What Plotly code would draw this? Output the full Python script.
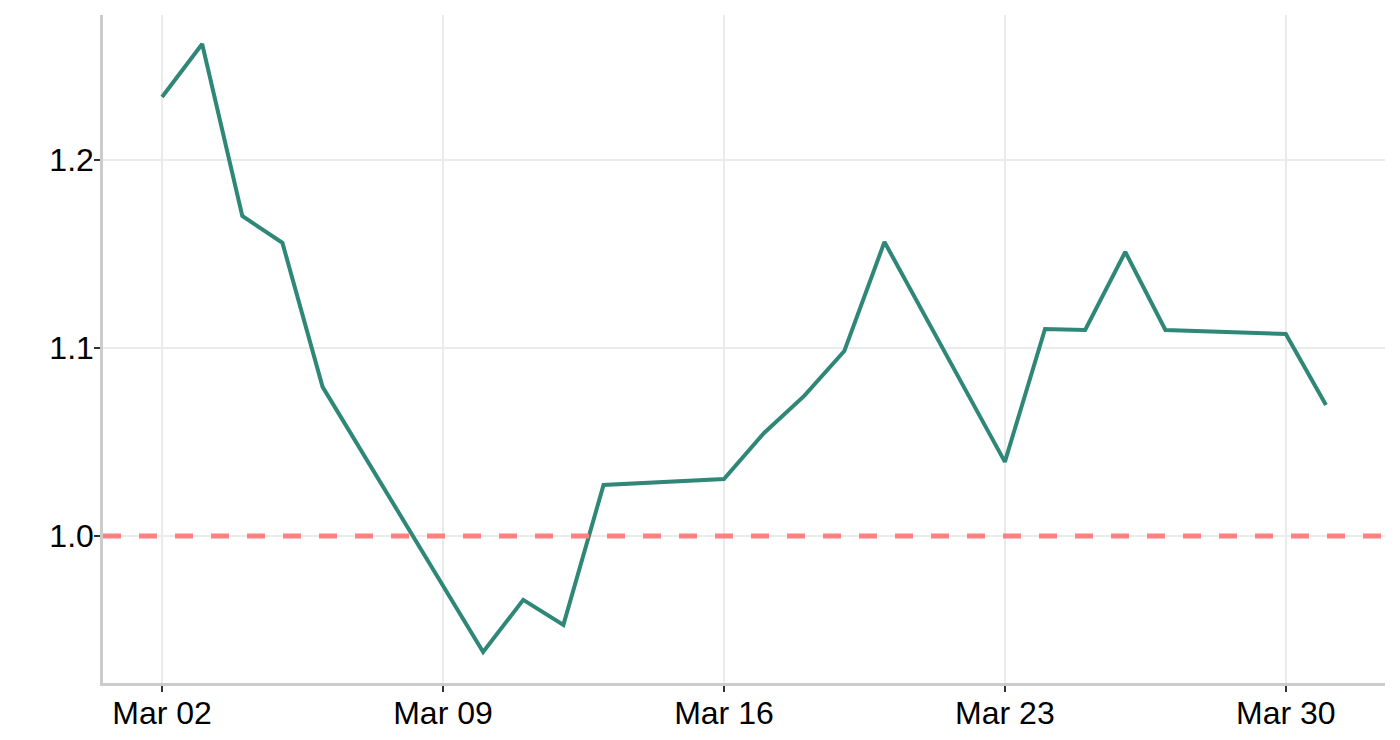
import plotly.graph_objects as go
import pandas as pd

# Datos
fechas = ["2020-03-02", "2020-03-03", "2020-03-04", "2020-03-05", "2020-03-06",
          "2020-03-10", "2020-03-11", "2020-03-12", "2020-03-13",
          "2020-03-16", "2020-03-17", "2020-03-18", "2020-03-19", "2020-03-20",
          "2020-03-23", "2020-03-24", "2020-03-25", "2020-03-26", "2020-03-27",
          "2020-03-30", "2020-03-31"]
valores = [1.2335, 1.2617, 1.1702, 1.1559, 1.0793,
           0.9383, 0.9660, 0.9527, 1.0271,
           1.0303, 1.0548, 1.0745, 1.0984, 1.1564,
           1.0394, 1.1101, 1.1096, 1.1511, 1.1096,
           1.1074, 1.0697]
referencia = 1.0

tick_fechas = ["2020-03-02", "2020-03-09", "2020-03-16", "2020-03-23", "2020-03-30"]
tick_textos = ["Mar 02", "Mar 09", "Mar 16", "Mar 23", "Mar 30"]
tick_y = [1.0, 1.1, 1.2]

fechas = pd.to_datetime(fechas)

fig = go.Figure()

fig.add_trace(go.Scatter(
    x=fechas,
    y=valores,
    mode='lines',
    line=dict(color='#2e8777', width=4),
    showlegend=False
))

# Línea de referencia
fig.add_hline(y=referencia, line=dict(color='#ff8080', width=5, dash='18px,18px'))

ejes = dict(
    showgrid=True, gridcolor='#ebebeb', gridwidth=1.5,
    showline=True, linecolor='#cccccc', linewidth=2.5,
    ticks='outside', ticklen=6, tickcolor='#333333', tickwidth=2,
    tickfont=dict(family='Liberation Sans, Arial, sans-serif', size=32, color='black'),
    zeroline=False
)

fig.update_layout(
    width=1392,
    height=732,
    template='plotly_white',
    plot_bgcolor='white',
    paper_bgcolor='white',
    font=dict(family='Liberation Sans, Arial, sans-serif', size=32, color='black'),
    margin=dict(l=95, r=15, t=7, b=57),
    xaxis=dict(
        range=[pd.Timestamp("2020-03-02") - pd.Timedelta(hours=35.3),
               pd.Timestamp("2020-03-02") + pd.Timedelta(hours=731.3)],
        tickvals=pd.to_datetime(tick_fechas),
        ticktext=tick_textos,
        ticklabelstandoff=-6,
        **ejes
    ),
    yaxis=dict(
        range=[0.9218, 1.2771],
        tickvals=tick_y,
        ticktext=[f"{v:.1f}" for v in tick_y],
        ticklabelstandoff=-6,
        **ejes
    )
)

fig.write_html("out.html")
